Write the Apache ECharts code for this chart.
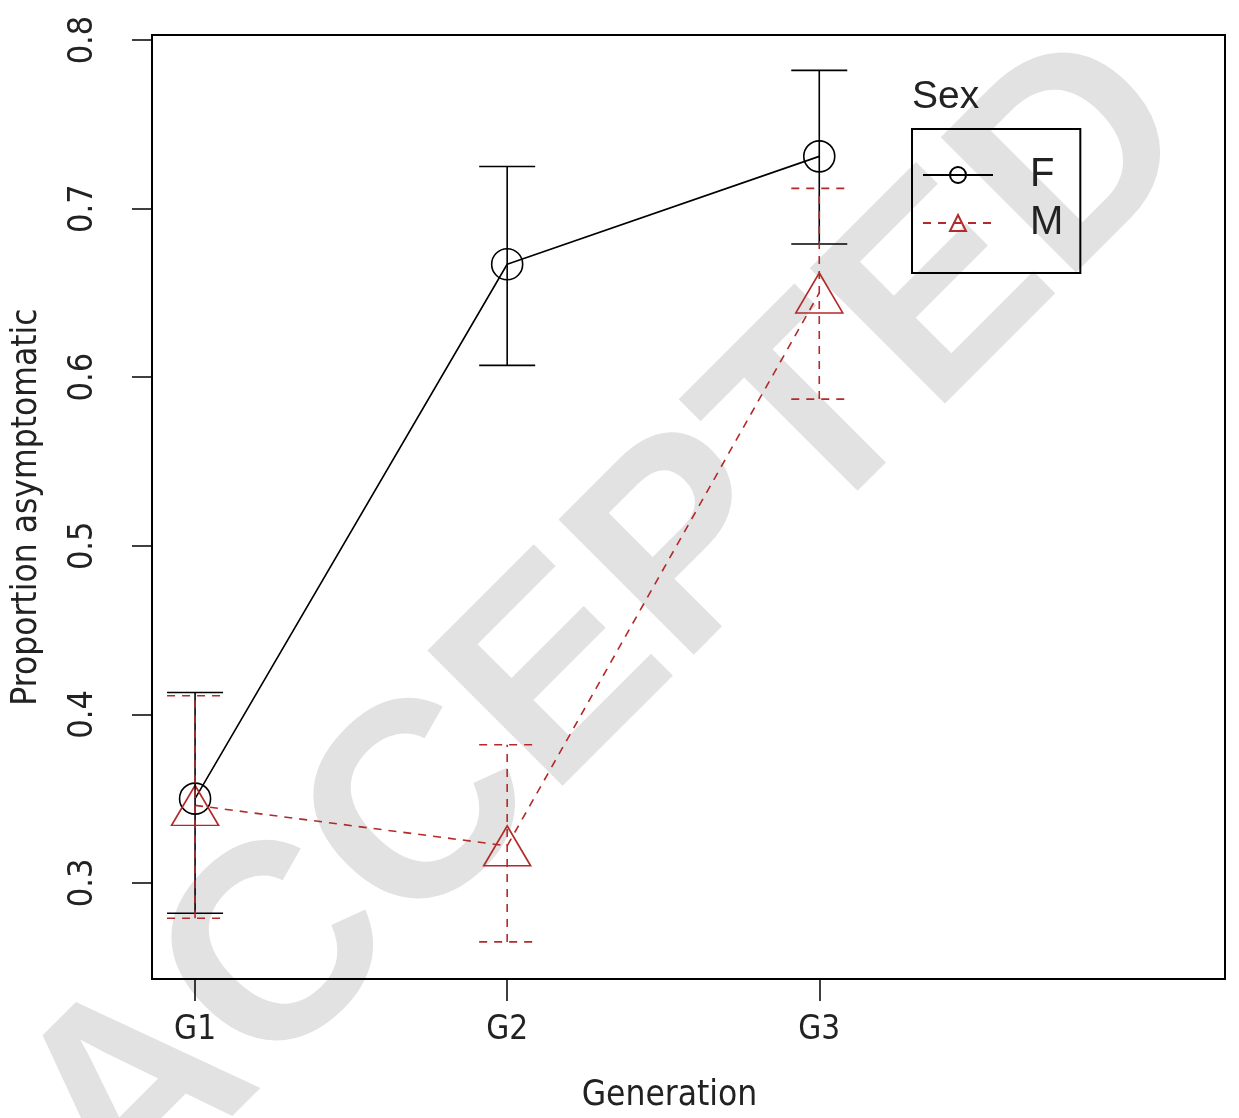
<!DOCTYPE html>
<html><head><meta charset="utf-8">
<script src="https://cdn.jsdelivr.net/npm/echarts@6/dist/echarts.min.js"></script>
<style>html,body{margin:0;padding:0;background:#fff}#c{width:1239px;height:1118px}</style>
</head><body><div id="c"></div>
<script>
var generations = ['G1','G2','G3'];
var genPos = [1,2,3];
var femaleMean = [0.350, 0.667, 0.731];
var femaleLow  = [0.282, 0.607, 0.679];
var femaleHigh = [0.413, 0.725, 0.782];
var maleMean = [0.346, 0.322, 0.650];
var maleLow  = [0.279, 0.265, 0.587];
var maleHigh = [0.411, 0.382, 0.712];
var yTicks = [0.3,0.4,0.5,0.6,0.7,0.8];

var FONT = '"Liberation Sans Narrow","DejaVu Sans Condensed",sans-serif';
var LFONT = '"Liberation Sans",Arial,sans-serif';
var RED = '#b22a2a';

function pts(mean){ return genPos.map(function(x,i){ return [x, mean[i]]; }); }
function errData(lo,hi){ return genPos.map(function(x,i){ return [x, lo[i], hi[i]]; }); }
function errRender(color, dash){
  return function(params, api){
    var x = api.value(0);
    var lo = api.coord([x, api.value(1)]);
    var hi = api.coord([x, api.value(2)]);
    var w = 28;
    var st = {stroke: color, lineWidth: 1.6, lineDash: dash};
    return {type:'group', children:[
      {type:'line', shape:{x1:lo[0],y1:lo[1],x2:hi[0],y2:hi[1]}, style:st},
      {type:'line', shape:{x1:lo[0]-w,y1:lo[1],x2:lo[0]+w,y2:lo[1]}, style:st},
      {type:'line', shape:{x1:hi[0]-w,y1:hi[1],x2:hi[0]+w,y2:hi[1]}, style:st}
    ]};
  };
}

var chart = echarts.init(document.getElementById('c'), null, {renderer:'canvas'});
chart.setOption({
  animation:false,
  backgroundColor:'#fff',
  grid:{left:152, right:14, top:35, bottom:138, show:true, borderColor:'#000', borderWidth:2},
  xAxis:{type:'value', min:0.862, max:4.30,
    name:'Generation', nameLocation:'middle', nameGap:99,
    nameTextStyle:{fontFamily:FONT, fontSize:35, color:'#222', padding:[0,38,0,0]},
    axisLine:{show:true, lineStyle:{color:'#000', width:2}},
    axisTick:{show:true, length:22, inside:false, customValues:genPos, lineStyle:{color:'#000', width:1.5}},
    axisLabel:{customValues:genPos, margin:35, fontFamily:FONT, fontSize:33, color:'#222',
      formatter:function(v){ var i = genPos.indexOf(v); return i>=0 ? generations[i] : ''; }},
    splitLine:{show:false}},
  yAxis:{type:'value', min:0.243, max:0.803,
    name:'Proportion asymptomatic', nameLocation:'middle', nameGap:108,
    nameTextStyle:{fontFamily:FONT, fontSize:35, color:'#222'},
    axisLine:{show:true, lineStyle:{color:'#000', width:2}},
    axisTick:{show:true, length:20, customValues:yTicks, lineStyle:{color:'#000', width:1.5}},
    axisLabel:{customValues:yTicks, rotate:90, margin:52, fontFamily:FONT, fontSize:34, color:'#222',
      formatter:function(v){ return v.toFixed(1); }},
    splitLine:{show:false}},
  legend:{orient:'vertical', left:912, top:129,
    padding:[26,17,30,10], itemGap:8, itemWidth:70, itemHeight:20,
    borderColor:'#000', borderWidth:2,
    textStyle:{fontFamily:LFONT, fontSize:40, color:'#222', padding:[0,0,0,32]},
    data:[{name:'F'},{name:'M'}]},
  graphic:[
    {type:'text', left:912, top:78, z:50, style:{text:'Sex', font:'39px "Liberation Sans",Arial,sans-serif', fill:'#222'}},
    {type:'text', x:610, y:630, rotation:45*Math.PI/180, z:-10, silent:true,
      style:{text:'ACCEPTED', font:'bold 278px "Liberation Sans",Arial,sans-serif', fill:'#e2e2e2', align:'center', verticalAlign:'middle'}}
  ],
  series:[
    {name:'F', type:'line', data:pts(femaleMean), z:3,
      symbol:'circle', symbolSize:31,
      lineStyle:{color:'#000', width:1.6, type:'solid'},
      itemStyle:{color:'rgba(255,255,255,0)', borderColor:'#000', borderWidth:1.6}},
    {name:'M', type:'line', data:pts(maleMean), z:3,
      symbol:'triangle', symbolSize:[47,40],
      lineStyle:{color:RED, width:1.6, type:[8,7]},
      itemStyle:{color:'rgba(255,255,255,0)', borderColor:RED, borderWidth:1.6}},
    {name:'Ferr', type:'custom', data:errData(femaleLow,femaleHigh), z:4,
      renderItem:errRender('#000', null), silent:true},
    {name:'Merr', type:'custom', data:errData(maleLow,maleHigh), z:5,
      renderItem:errRender(RED, [8,7]), silent:true}
  ]
});
</script></body></html>
